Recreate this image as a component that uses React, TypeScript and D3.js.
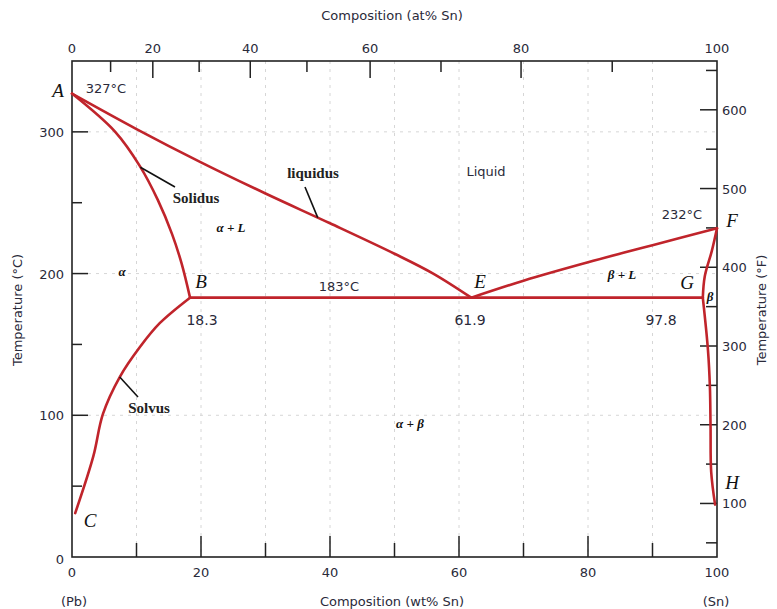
import React from "react"
import * as d3 from "d3"

// phase boundaries, [wt% Sn, °C]
const liquidusAE = [[0, 327], [10, 302], [20, 278.5], [30, 256.5], [40, 235.5], [50, 214], [56, 200], [61.9, 183]]
const liquidusEF = [[61.9, 183], [70, 195], [80, 208], [90, 220], [100, 232]]
const solidusAB = [[0, 327], [6.7, 300], [10.5, 276], [13.3, 252], [15.5, 228], [17, 207], [18.3, 183]]
const solvusBC = [[18.3, 183], [13.6, 165], [10.5, 148], [7.4, 127], [4.8, 101], [3.3, 71], [0.5, 31]]
const eutectic = [[18.3, 183], [97.8, 183]]
const betaFG = [[100, 232], [99.2, 216], [98.1, 198], [97.8, 183]]
const betaGH = [[97.8, 183], [98.6, 146], [98.9, 120], [99, 92], [99.1, 60], [99.7, 37]]

const wtTicks = [0, 10, 20, 30, 40, 50, 60, 70, 80, 90, 100]
const atTicks = [0, 10, 20, 30, 40, 50, 60, 70, 80, 90, 100]
const cTicks = [0, 50, 100, 150, 200, 250, 300]
const fTicks = [50, 100, 150, 200, 250, 300, 350, 400, 450, 500, 550, 600, 650]

const atToWt = (a: number) => (a * 118.71) / (a * 118.71 + (100 - a) * 207.2) * 100

const SANS = "'DejaVu Sans', sans-serif"
const SERIF = "'Liberation Serif', 'DejaVu Serif', serif"
const RED = "#c0242b"
const INK = "#2a2a3a"

export default function App() {
  const left = 72, right = 717, top = 61, bottom = 557
  const x = d3.scaleLinear().domain([0, 100]).range([left, right])
  const y = d3.scaleLinear().domain([0, 350]).range([bottom, top])
  const yF = d3.scaleLinear().domain([32, 350 * 1.8 + 32]).range([bottom, top])

  const line = d3.line<number[]>().x(d => x(d[0])).y(d => y(d[1])).curve(d3.curveCatmullRom.alpha(0.5))
  const paths = [liquidusAE, liquidusEF, eutectic, solidusAB, solvusBC, betaFG, betaGH].map(c => line(c))

  const ital = (t: string, px: number, py: number, size = 19, weight = "normal") => (
    <text x={px} y={py} fontFamily={SERIF} fontStyle="italic" fontWeight={weight} fontSize={size} fill="#111" textAnchor="middle">{t}</text>
  )
  const sans = (t: string, px: number, py: number, size = 13, anchor = "middle") => (
    <text x={px} y={py} fontFamily={SANS} fontSize={size} fill={INK} textAnchor={anchor}>{t}</text>
  )
  const bold = (t: string, px: number, py: number) => (
    <text x={px} y={py} fontFamily={SERIF} fontWeight="bold" fontSize={15} fill="#222" textAnchor="middle">{t}</text>
  )

  return (
    <svg width={777} height={609} style={{ position: "absolute", left: 0, top: 0, background: "#fff" }}>
      {/* faint scanned grid */}
      <g stroke="#d6d6d6" strokeWidth={1} strokeDasharray="3,5">
        {wtTicks.slice(1, -1).map(t => <line key={"gx" + t} x1={x(t)} x2={x(t)} y1={top} y2={bottom} />)}
        {[100, 200, 300].map(t => <line key={"gy" + t} x1={left} x2={right} y1={y(t)} y2={y(t)} />)}
      </g>

      {/* frame */}
      <rect x={left} y={top} width={right - left} height={bottom - top} fill="none" stroke="#222" strokeWidth={1.6} />

      {/* ticks */}
      <g stroke="#222" strokeWidth={1.5}>
        {wtTicks.slice(1, -1).map(t => <line key={"bt" + t} x1={x(t)} x2={x(t)} y1={bottom} y2={bottom - (t % 20 === 0 ? 21 : 14)} />)}
        {atTicks.slice(1, -1).map(t => <line key={"tt" + t} x1={x(atToWt(t))} x2={x(atToWt(t))} y1={top} y2={top + (t % 20 === 0 ? 17 : 11)} />)}
        {cTicks.slice(1).map(t => <line key={"lt" + t} x1={left} x2={left + (t % 100 === 0 ? 16 : 10)} y1={y(t)} y2={y(t)} />)}
        {fTicks.map(t => <line key={"rt" + t} x1={right} x2={right - (t % 100 === 0 ? 17 : 11)} y1={yF(t)} y2={yF(t)} />)}
      </g>

      {/* tick labels */}
      {wtTicks.filter(t => t % 20 === 0).map(t => <g key={"bl" + t}>{sans(String(t), x(t), 577)}</g>)}
      {atTicks.filter(t => t % 20 === 0).map(t => <g key={"tl" + t}>{sans(String(t), x(atToWt(t)), 53)}</g>)}
      {cTicks.filter(t => t % 100 === 0).map(t => <g key={"ll" + t}>{sans(String(t), 64, y(t) + 5 + (t === 0 ? 2 : 0), 13, "end")}</g>)}
      {fTicks.filter(t => t % 100 === 0).map(t => <g key={"rl" + t}>{sans(String(t), 722, yF(t) + 5, 13, "start")}</g>)}

      {/* axis titles */}
      {sans("Composition (at% Sn)", 392, 20, 13)}
      {sans("Composition (wt% Sn)", 392, 606, 13)}
      {sans("(Pb)", 74, 606, 13)}
      {sans("(Sn)", 716, 606, 13)}
      <text transform="translate(22,310) rotate(-90)" fontFamily={SANS} fontSize={13} fill={INK} textAnchor="middle">Temperature (°C)</text>
      <text transform="translate(766,310) rotate(-90)" fontFamily={SANS} fontSize={13} fill={INK} textAnchor="middle">Temperature (°F)</text>

      {/* phase boundaries */}
      <g fill="none" stroke={RED} strokeWidth={2.6} strokeLinejoin="round" strokeLinecap="round">
        {paths.map((p, i) => <path key={i} d={p || ""} />)}
      </g>

      {/* pointers */}
      <g stroke="#111" strokeWidth={1.6}>
        <line x1={x(10.6)} y1={y(275)} x2={175} y2={187} />
        <line x1={x(38.1)} y1={y(239.5)} x2={305} y2={187} />
        <line x1={x(7.4)} y1={y(127)} x2={138} y2={397} />
      </g>
      {bold("Solidus", 196, 203)}
      {bold("liquidus", 313, 178)}
      {bold("Solvus", 149, 413)}

      {/* region and point labels */}
      {sans("Liquid", 486, 176, 13)}
      {ital("α + L", 231, 232, 13, "bold")}
      {ital("α", 122, 276, 13, "bold")}
      {ital("β + L", 622, 279, 13, "bold")}
      {ital("β", 710, 301, 13, "bold")}
      {ital("α + β", 410, 428, 13, "bold")}

      {ital("A", 58, 97)}
      {sans("327°C", 106, 93, 13)}
      {ital("B", 201, 288)}
      {sans("18.3", 202, 325, 14)}
      {sans("183°C", 339, 291, 13)}
      {ital("E", 480, 288)}
      {sans("61.9", 470, 325, 14)}
      {ital("G", 687, 289)}
      {sans("97.8", 661, 325, 14)}
      {sans("232°C", 682, 219, 13)}
      {ital("F", 732, 227)}
      {ital("H", 732, 489)}
      {ital("C", 90, 527)}
    </svg>
  )
}
